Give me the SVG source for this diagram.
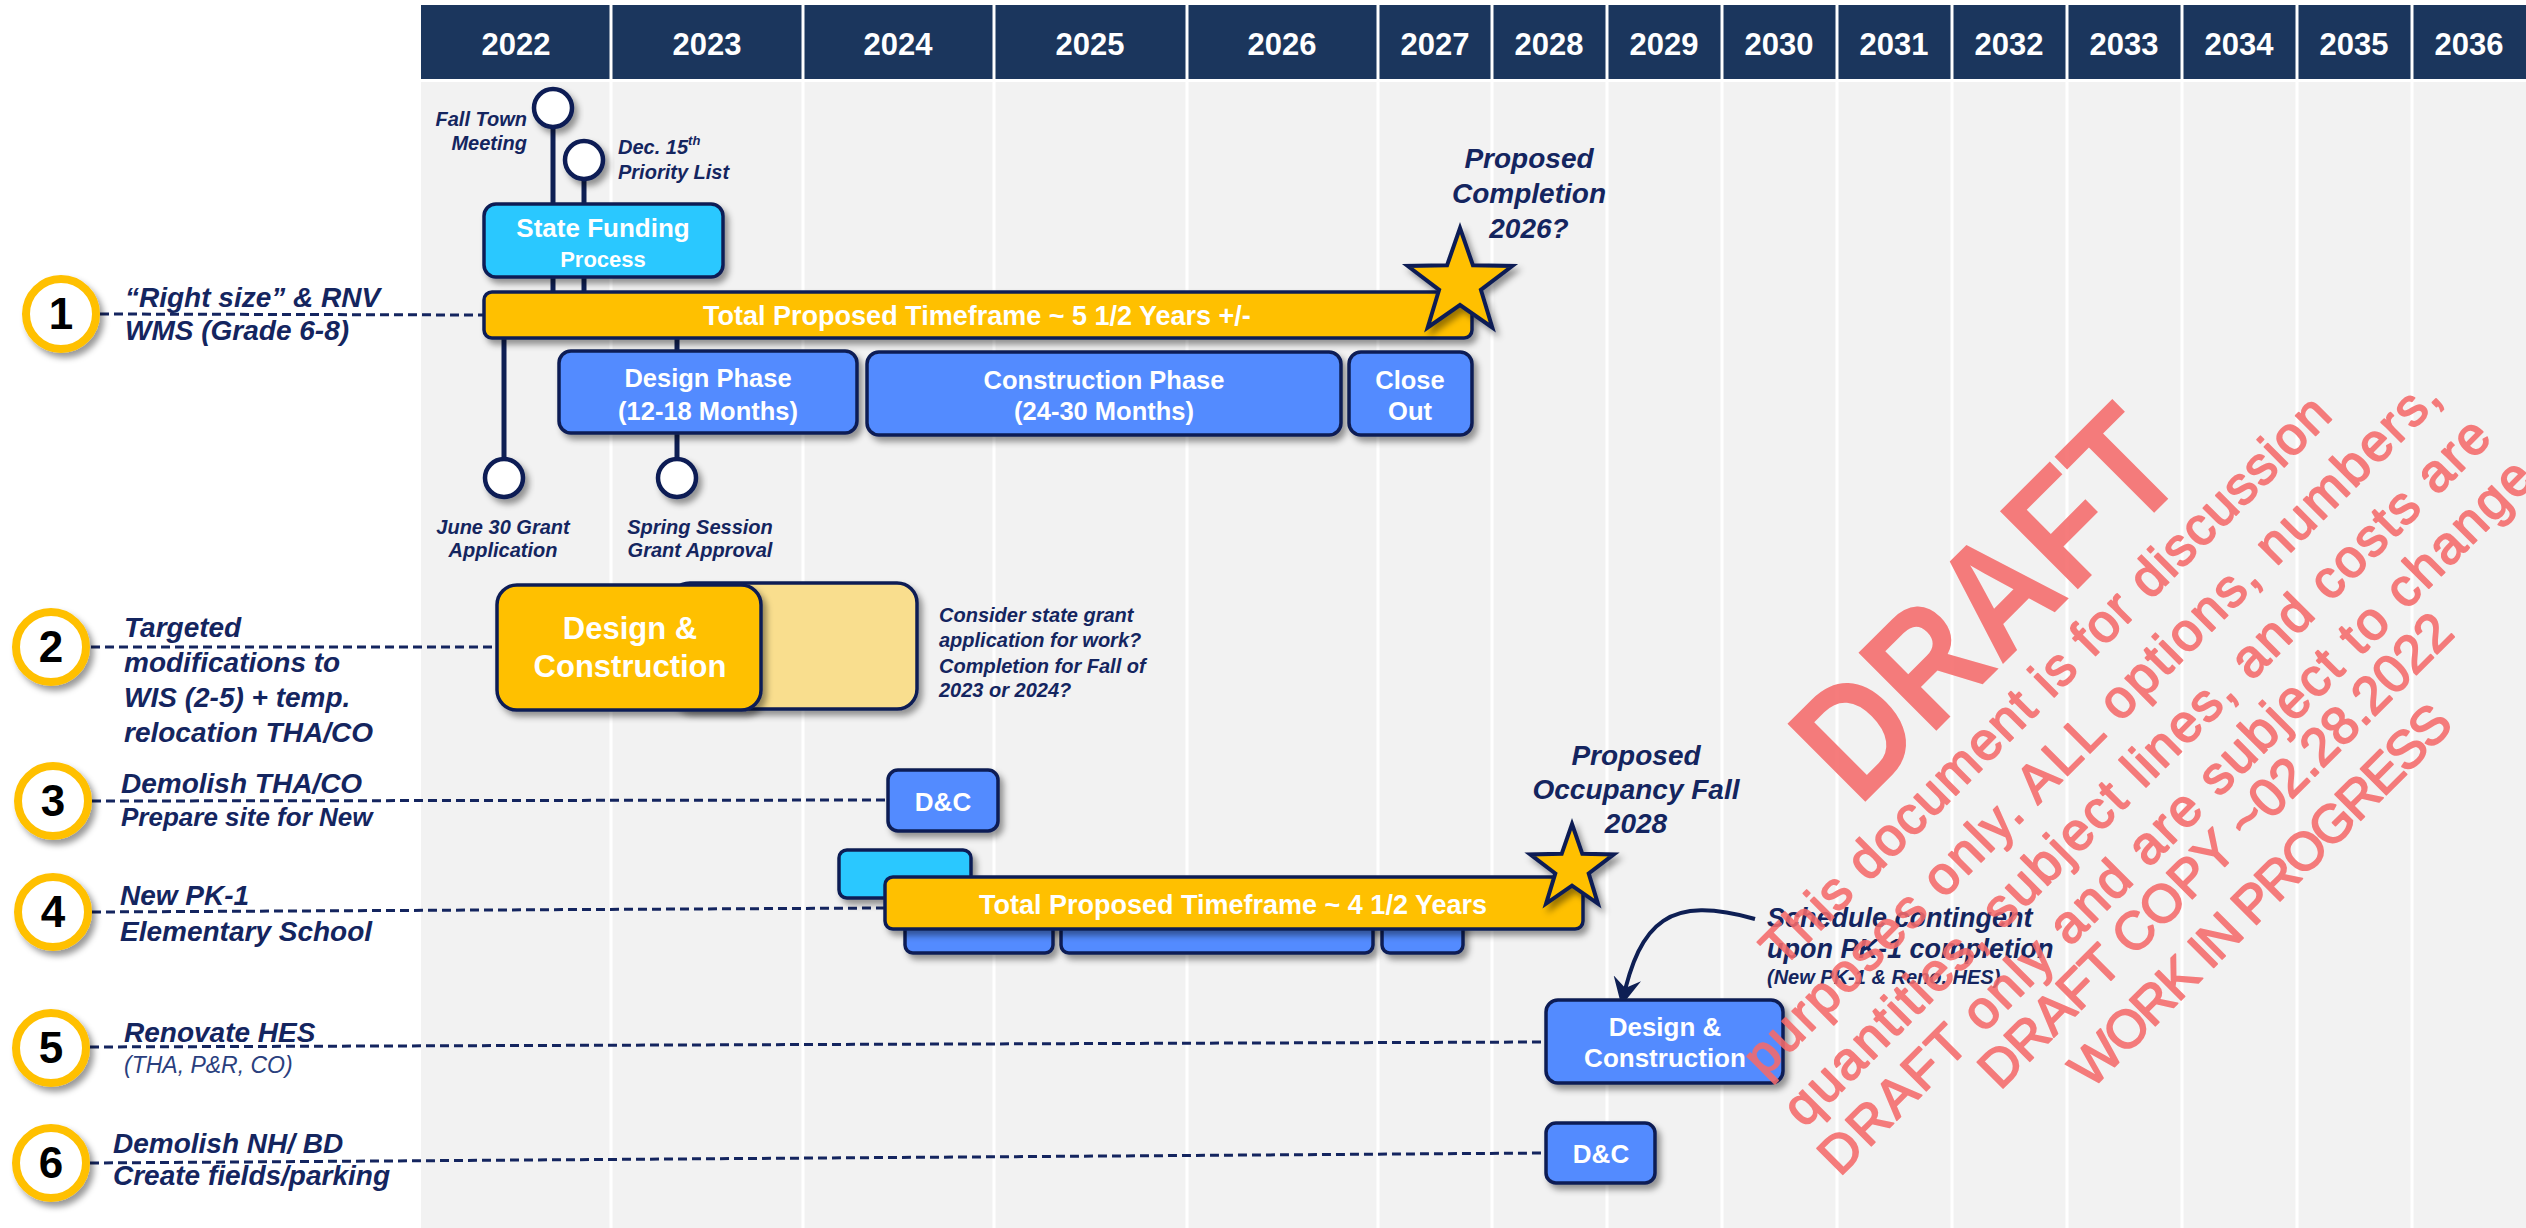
<svg xmlns="http://www.w3.org/2000/svg" width="2526" height="1228" viewBox="0 0 2526 1228">
<defs>
<filter id="sh" x="-20%" y="-30%" width="150%" height="170%">
<feDropShadow dx="4" dy="5" stdDeviation="3" flood-color="#000" flood-opacity="0.4"/>
</filter>
<marker id="ah" viewBox="0 0 10 10" refX="9" refY="5" markerUnits="userSpaceOnUse" markerWidth="28" markerHeight="28" orient="auto">
<path d="M0,0 L10,5 L0,10 L3.5,5 z" fill="#0E1F54"/>
</marker>
</defs>
<style>
.f{font-family:"Liberation Sans",Arial,sans-serif}
.yr{font-family:"Liberation Sans",Arial,sans-serif;font-weight:bold;font-size:31px;fill:#fff;text-anchor:middle}
.lbl{font-family:"Liberation Sans",Arial,sans-serif;font-weight:bold;font-style:italic;font-size:28px;fill:#14255F}
.sm{font-family:"Liberation Sans",Arial,sans-serif;font-weight:bold;font-style:italic;font-size:20px;fill:#14255F}
.num{font-family:"Liberation Sans",Arial,sans-serif;font-weight:bold;font-size:44px;fill:#000;text-anchor:middle}
.ring{fill:#fff;stroke:#FFC000;stroke-width:8;filter:url(#sh)}
.box{stroke:#0E1F54;stroke-width:3.5;filter:url(#sh)}
.blue{fill:#528BFF}.cyan{fill:#2AC8FF}.gold{fill:#FFC000}.pale{fill:#F9DE8E}
.bt{font-family:"Liberation Sans",Arial,sans-serif;font-weight:bold;fill:#fff;text-anchor:middle}
.dash{stroke:#14255F;stroke-width:3;stroke-dasharray:9 5;fill:none}
.stem{stroke:#0E1F54;stroke-width:5}
.ms{fill:#fff;stroke:#0E1F54;stroke-width:4.5;filter:url(#sh)}
.star{fill:#FFC000;stroke:#0E1F54;stroke-width:4;stroke-linejoin:miter;filter:url(#sh)}
.wm{font-family:"Liberation Sans",Arial,sans-serif;fill:#F56B6B;text-anchor:middle}
.wms{stroke:#F56B6B;stroke-width:1.8;stroke-linejoin:round}
.hd{fill:#1B365D}
.vl{stroke:#fff;stroke-width:3}
</style>
<rect x="0" y="0" width="2526" height="1228" fill="#fff"/>
<g id="grid">
<rect x="421" y="82" width="2105" height="1146" fill="#F2F2F2"/>
<line class="vl" x1="611" y1="82" x2="611" y2="1228"/>
<line class="vl" x1="803" y1="82" x2="803" y2="1228"/>
<line class="vl" x1="994" y1="82" x2="994" y2="1228"/>
<line class="vl" x1="1187" y1="82" x2="1187" y2="1228"/>
<line class="vl" x1="1378" y1="82" x2="1378" y2="1228"/>
<line class="vl" x1="1492" y1="82" x2="1492" y2="1228"/>
<line class="vl" x1="1607" y1="82" x2="1607" y2="1228"/>
<line class="vl" x1="1722" y1="82" x2="1722" y2="1228"/>
<line class="vl" x1="1837" y1="82" x2="1837" y2="1228"/>
<line class="vl" x1="1952" y1="82" x2="1952" y2="1228"/>
<line class="vl" x1="2067" y1="82" x2="2067" y2="1228"/>
<line class="vl" x1="2182" y1="82" x2="2182" y2="1228"/>
<line class="vl" x1="2297" y1="82" x2="2297" y2="1228"/>
<line class="vl" x1="2412" y1="82" x2="2412" y2="1228"/>
</g>
<g id="header">
<rect class="hd" x="421" y="5" width="188.5" height="74"/>
<rect class="hd" x="612.5" y="5" width="189" height="74"/>
<rect class="hd" x="804.5" y="5" width="188" height="74"/>
<rect class="hd" x="995.5" y="5" width="190" height="74"/>
<rect class="hd" x="1188.5" y="5" width="188" height="74"/>
<rect class="hd" x="1379.5" y="5" width="111" height="74"/>
<rect class="hd" x="1493.5" y="5" width="112" height="74"/>
<rect class="hd" x="1608.5" y="5" width="112" height="74"/>
<rect class="hd" x="1723.5" y="5" width="112" height="74"/>
<rect class="hd" x="1838.5" y="5" width="112" height="74"/>
<rect class="hd" x="1953.5" y="5" width="112" height="74"/>
<rect class="hd" x="2068.5" y="5" width="112" height="74"/>
<rect class="hd" x="2183.5" y="5" width="112" height="74"/>
<rect class="hd" x="2298.5" y="5" width="112" height="74"/>
<rect class="hd" x="2413.5" y="5" width="112.5" height="74"/>
<text class="yr" x="516" y="55">2022</text>
<text class="yr" x="707" y="55">2023</text>
<text class="yr" x="898" y="55">2024</text>
<text class="yr" x="1090" y="55">2025</text>
<text class="yr" x="1282" y="55">2026</text>
<text class="yr" x="1435" y="55">2027</text>
<text class="yr" x="1549" y="55">2028</text>
<text class="yr" x="1664" y="55">2029</text>
<text class="yr" x="1779" y="55">2030</text>
<text class="yr" x="1894" y="55">2031</text>
<text class="yr" x="2009" y="55">2032</text>
<text class="yr" x="2124" y="55">2033</text>
<text class="yr" x="2239" y="55">2034</text>
<text class="yr" x="2354" y="55">2035</text>
<text class="yr" x="2469" y="55">2036</text>
</g>
<g id="connectors">
<line class="dash" x1="100" y1="314" x2="484" y2="315"/>
<line class="dash" x1="91" y1="647" x2="497" y2="647"/>
<line class="dash" x1="92" y1="801" x2="888" y2="800"/>
<line class="dash" x1="92" y1="912" x2="885" y2="908"/>
<line class="dash" x1="90" y1="1047" x2="1546" y2="1042"/>
<line class="dash" x1="90" y1="1163" x2="1546" y2="1153"/>
<line class="stem" x1="553" y1="110" x2="553" y2="292"/>
<line class="stem" x1="584" y1="162" x2="584" y2="292"/>
<line class="stem" x1="504" y1="338" x2="504" y2="476"/>
<line class="stem" x1="677" y1="338" x2="677" y2="476"/>
<path d="M1755,919 C1670,895 1640,920 1622,1003" fill="none" stroke="#0E1F54" stroke-width="4" marker-end="url(#ah)"/>
</g>
<g id="row1-label">
<circle class="ring" cx="61" cy="314" r="35"/>
<text class="num" x="61" y="329">1</text>
<text class="lbl" x="125" y="307">“Right size” &amp; RNV</text>
<text class="lbl" x="125" y="340">WMS (Grade 6-8)</text>
</g>
<g id="row2-label">
<circle class="ring" cx="51" cy="647" r="35"/>
<text class="num" x="51" y="662">2</text>
<text class="lbl" x="124" y="637">Targeted</text>
<text class="lbl" x="124" y="672">modifications to</text>
<text class="lbl" x="124" y="707">WIS (2-5) + temp.</text>
<text class="lbl" x="124" y="742">relocation THA/CO</text>
</g>
<g id="row3-label">
<circle class="ring" cx="53" cy="801" r="35"/>
<text class="num" x="53" y="816">3</text>
<text class="lbl" x="121" y="793">Demolish THA/CO</text>
<text class="lbl" x="121" y="826" style="font-size:26px">Prepare site for New</text>
</g>
<g id="row4-label">
<circle class="ring" cx="53" cy="912" r="35"/>
<text class="num" x="53" y="927">4</text>
<text class="lbl" x="120" y="905">New PK-1</text>
<text class="lbl" x="120" y="941">Elementary School</text>
</g>
<g id="row5-label">
<circle class="ring" cx="51" cy="1048" r="35"/>
<text class="num" x="51" y="1063">5</text>
<text class="lbl" x="124" y="1042">Renovate HES</text>
<text class="f" x="124" y="1073" style="font-style:italic;font-size:23px;fill:#2A3F7E">(THA, P&amp;R, CO)</text>
</g>
<g id="row6-label">
<circle class="ring" cx="51" cy="1163" r="35"/>
<text class="num" x="51" y="1178">6</text>
<text class="lbl" x="113" y="1153">Demolish NH/ BD</text>
<text class="lbl" x="113" y="1185">Create fields/parking</text>
</g>
<g id="ms-fall-town">
<circle class="ms" cx="553" cy="108" r="19"/>
<text class="sm" x="527" y="126" text-anchor="end">Fall Town</text>
<text class="sm" x="527" y="150" text-anchor="end">Meeting</text>
</g>
<g id="ms-dec15">
<circle class="ms" cx="584" cy="160" r="19"/>
<text class="sm" x="618" y="154">Dec. 15<tspan font-size="13" dy="-9">th</tspan></text>
<text class="sm" x="618" y="179">Priority List</text>
</g>
<g id="ms-june30">
<circle class="ms" cx="504" cy="478" r="19"/>
<text class="sm" x="503" y="534" text-anchor="middle">June 30 Grant</text>
<text class="sm" x="503" y="557" text-anchor="middle">Application</text>
</g>
<g id="ms-spring">
<circle class="ms" cx="677" cy="478" r="19"/>
<text class="sm" x="700" y="534" text-anchor="middle">Spring Session</text>
<text class="sm" x="700" y="557" text-anchor="middle">Grant Approval</text>
</g>
<g id="state-funding">
<rect class="box cyan" x="484" y="204" width="239" height="73" rx="12"/>
<text class="bt" x="603" y="237" font-size="26">State Funding</text>
<text class="bt" x="603" y="267" font-size="22">Process</text>
</g>
<g id="row1-timeframe">
<rect class="box gold" x="484" y="292" width="988" height="46" rx="8"/>
<text class="bt" x="977" y="325" font-size="27">Total Proposed Timeframe ~ 5 1/2 Years +/-</text>
</g>
<g id="design-phase">
<rect class="box blue" x="559" y="351" width="298" height="82" rx="12"/>
<text class="bt" x="708" y="387" font-size="25.5">Design Phase</text>
<text class="bt" x="708" y="420" font-size="25.5">(12-18 Months)</text>
</g>
<g id="construction-phase">
<rect class="box blue" x="867" y="352" width="474" height="83" rx="12"/>
<text class="bt" x="1104" y="389" font-size="25.5">Construction Phase</text>
<text class="bt" x="1104" y="420" font-size="25.5">(24-30 Months)</text>
</g>
<g id="close-out">
<rect class="box blue" x="1349" y="352" width="123" height="83" rx="12"/>
<text class="bt" x="1410" y="389" font-size="25.5">Close</text>
<text class="bt" x="1410" y="420" font-size="25.5">Out</text>
</g>
<g id="star-2026">
<polygon class="star" points="1460,228 1472.9,265.2 1512.3,266 1480.9,289.8 1492.3,327.5 1460,305 1427.7,327.5 1439.1,289.8 1407.7,266 1447.1,265.2"/>
<text class="lbl" x="1529" y="168" text-anchor="middle">Proposed</text>
<text class="lbl" x="1529" y="203" text-anchor="middle">Completion</text>
<text class="lbl" x="1529" y="238" text-anchor="middle">2026?</text>
</g>
<g id="row2-bar">
<rect class="box pale" x="670" y="583" width="247" height="126" rx="20"/>
<rect class="box gold" x="497" y="585" width="264" height="125" rx="20"/>
<text class="bt" x="630" y="639" font-size="31">Design &amp;</text>
<text class="bt" x="630" y="677" font-size="31">Construction</text>
</g>
<g id="row2-note">
<text class="sm" x="939" y="622">Consider state grant</text>
<text class="sm" x="939" y="647">application for work?</text>
<text class="sm" x="939" y="673">Completion for Fall of</text>
<text class="sm" x="939" y="697">2023 or 2024?</text>
</g>
<g id="row3-dc">
<rect class="box blue" x="888" y="770" width="110" height="61" rx="10"/>
<text class="bt" x="943" y="811" font-size="26">D&amp;C</text>
</g>
<g id="row4-bars">
<rect class="box cyan" x="839" y="850" width="132" height="48" rx="8"/>
<rect class="box blue" x="905" y="895" width="148" height="58" rx="8"/>
<rect class="box blue" x="1061" y="895" width="312" height="58" rx="8"/>
<rect class="box blue" x="1382" y="895" width="81" height="58" rx="8"/>
<rect class="box gold" x="885" y="877" width="698" height="52" rx="8"/>
<text class="bt" x="1233" y="914" font-size="27">Total Proposed Timeframe ~ 4 1/2 Years</text>
</g>
<g id="star-2028">
<polygon class="star" points="1572,824 1582.3,853.8 1613.8,854.4 1588.7,873.4 1597.9,903.6 1572,885.6 1546.1,903.6 1555.3,873.4 1530.2,854.4 1561.7,853.8"/>
<text class="lbl" x="1636" y="765" text-anchor="middle">Proposed</text>
<text class="lbl" x="1636" y="799" text-anchor="middle">Occupancy Fall</text>
<text class="lbl" x="1636" y="833" text-anchor="middle">2028</text>
</g>
<g id="row5-note">
<text class="lbl" x="1767" y="927" style="font-size:27px">Schedule contingent</text>
<text class="lbl" x="1767" y="958" style="font-size:27px">upon PK-1 completion</text>
<text class="sm" x="1767" y="984">(New PK-1 &amp; Reno. HES)</text>
</g>
<g id="row5-dc">
<rect class="box blue" x="1546" y="1000" width="237" height="83" rx="12"/>
<text class="bt" x="1665" y="1036" font-size="26">Design &amp;</text>
<text class="bt" x="1665" y="1067" font-size="26">Construction</text>
</g>
<g id="row6-dc">
<rect class="box blue" x="1546" y="1123" width="109" height="60" rx="10"/>
<text class="bt" x="1601" y="1163" font-size="26">D&amp;C</text>
</g>
<g id="watermark" opacity="0.88">
<text class="wm" transform="translate(2025,642) rotate(-45)" font-size="160" font-weight="bold" textLength="470" lengthAdjust="spacingAndGlyphs">DRAFT</text>
<g class="wms">
<text class="wm" transform="translate(2058,693) rotate(-45)" font-size="53" textLength="780" lengthAdjust="spacing">This document is for discussion</text>
<text class="wm" transform="translate(2104,739) rotate(-45)" font-size="53" textLength="960" lengthAdjust="spacing">purposes only.  ALL options, numbers,</text>
<text class="wm" transform="translate(2149,784) rotate(-45)" font-size="53" textLength="975" lengthAdjust="spacing">quantities, subject lines, and costs are</text>
<text class="wm" transform="translate(2188,829) rotate(-45)" font-size="53" textLength="985" lengthAdjust="spacing">DRAFT only and are subject to change</text>
<text class="wm" transform="translate(2228,863) rotate(-45)" font-size="53" textLength="645" lengthAdjust="spacing">DRAFT COPY ~02.28.2022</text>
<text class="wm" transform="translate(2273,908) rotate(-45)" font-size="53" textLength="515" lengthAdjust="spacing">WORK IN PROGRESS</text>
</g>
</g>
</svg>
